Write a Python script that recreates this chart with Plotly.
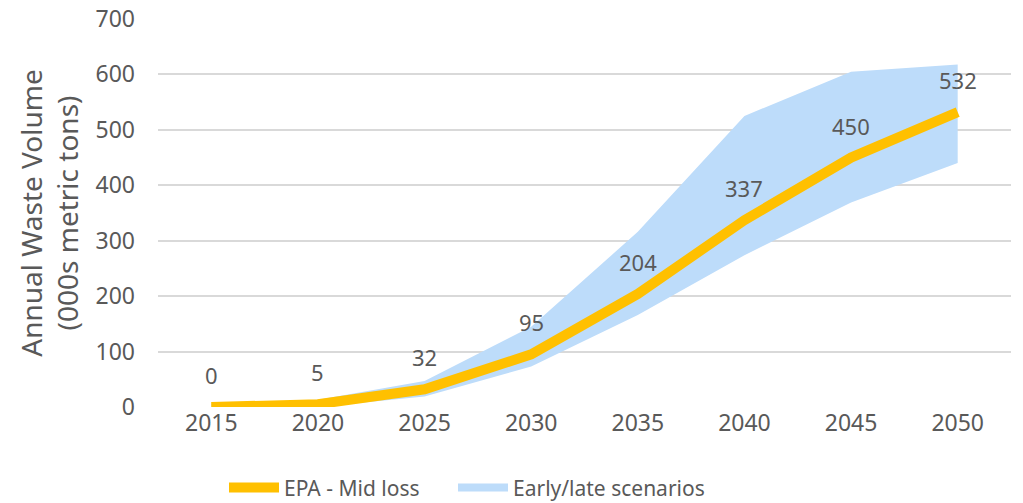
import plotly.graph_objects as go

years = [2015, 2020, 2025, 2030, 2035, 2040, 2045, 2050]
year_labels = ["2015", "2020", "2025", "2030", "2035", "2040", "2045", "2050"]
mid_loss = [0, 5, 32, 95, 204, 337, 450, 532]
scenario_low = [0, 0, 19, 73, 166, 274, 369, 440]
scenario_high = [6, 13, 47, 145, 316, 525, 605, 618]
y_ticks = [0, 100, 200, 300, 400, 500, 600, 700]

ORANGE = "#FFC000"
BLUE = "#BDDCFA"
TEXT = "#595959"
FONT = "Noto Sans"

fig = go.Figure()
# Scenario band as a closed polygon built from the low/high arrays
band_x = years + years[::-1]
band_y = scenario_low + scenario_high[::-1]
fig.add_trace(go.Scatter(x=band_x, y=band_y, mode="lines", fill="toself",
                         fillcolor=BLUE, line=dict(color=BLUE, width=0),
                         showlegend=False, hoverinfo="skip"))
fig.add_trace(go.Scatter(x=years, y=mid_loss, mode="lines", name="EPA - Mid loss",
                         line=dict(color=ORANGE, width=10), legend="legend"))
fig.add_trace(go.Scatter(x=[None], y=[None], mode="lines", name="Early/late scenarios",
                         fill="none", line=dict(color=BLUE, width=8), legend="legend2"))

for yr, v in zip(years, mid_loss):
    fig.add_annotation(x=yr, y=v, text=str(v), showarrow=False, yshift=32,
                       font=dict(family=FONT, size=22, color=TEXT))

legend_common = dict(orientation="h", xanchor="left", xref="container",
                     y=0.03, yanchor="middle", yref="container",
                     font=dict(family=FONT, size=21, color=TEXT), itemwidth=50,
                     bgcolor="rgba(0,0,0,0)")

fig.update_layout(
    width=1023, height=503,
    margin=dict(l=158, r=12, t=19, b=96, autoexpand=False),
    plot_bgcolor="white", paper_bgcolor="white",
    font=dict(family=FONT, size=22, color=TEXT),
    legend=dict(x=224 / 1023, **legend_common),
    legend2=dict(x=453 / 1023, **legend_common),
    xaxis=dict(range=[2012.5, 2052.5], tickvals=years, ticktext=year_labels,
               showgrid=False, showline=False, zeroline=False, ticks="",
               automargin=False, tickfont=dict(size=23, color=TEXT)),
    yaxis=dict(range=[0, 700], tickvals=y_ticks, showgrid=True, gridcolor="#D9D9D9",
               gridwidth=1.5, zeroline=False, showline=False, ticks="",
               ticklabelstandoff=22, automargin=False,
               tickfont=dict(size=23, color=TEXT),
               title=dict(text="Annual Waste Volume<br>(000s metric tons)",
                          font=dict(size=28, color=TEXT), standoff=8)),
)

fig.write_html("out.html")
